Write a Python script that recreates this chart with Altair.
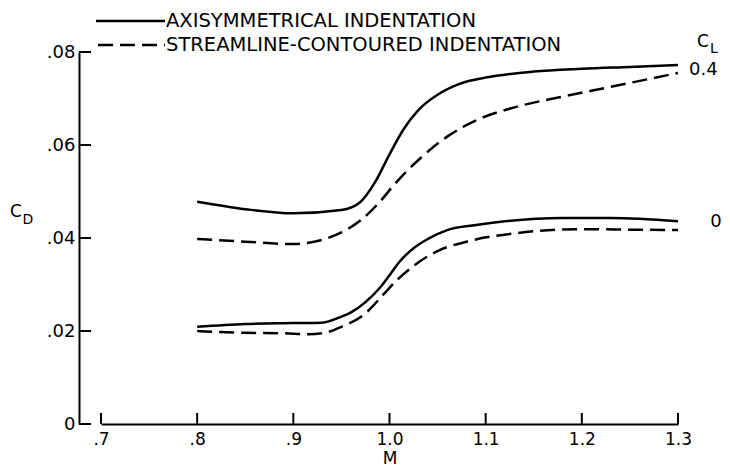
import altair as alt
import pandas as pd

FONT = "DejaVu Sans"

# Axisymmetrical indentation (solid), CL = 0.4
M_SOLID_04 = [0.80, 0.85, 0.90, 0.95, 0.97, 0.985, 1.0, 1.015, 1.03, 1.05, 1.075, 1.1, 1.15, 1.2, 1.25, 1.3]
CD_SOLID_04 = [0.0478, 0.0462, 0.0453, 0.0460, 0.0478, 0.0520, 0.0580, 0.0635, 0.0675, 0.0708, 0.0733, 0.0745, 0.0758, 0.0764, 0.0768, 0.0772]
# Streamline-contoured indentation (dashed), CL = 0.4
M_DASH_04 = [0.80, 0.85, 0.90, 0.93, 0.95, 0.97, 0.99, 1.005, 1.02, 1.035, 1.06, 1.09, 1.13, 1.18, 1.23, 1.3]
CD_DASH_04 = [0.0398, 0.0392, 0.0387, 0.0396, 0.0412, 0.0438, 0.0478, 0.0515, 0.0548, 0.0577, 0.0618, 0.0653, 0.0681, 0.0704, 0.0725, 0.0755]
# Axisymmetrical indentation (solid), CL = 0
M_SOLID_0 = [0.80, 0.85, 0.90, 0.93, 0.95, 0.96, 0.975, 0.99, 1.0, 1.01, 1.025, 1.04, 1.06, 1.09, 1.12, 1.18, 1.23, 1.3]
CD_SOLID_0 = [0.0209, 0.0215, 0.0217, 0.0218, 0.0231, 0.0240, 0.0262, 0.0293, 0.0320, 0.0348, 0.0378, 0.0398, 0.0417, 0.0428, 0.0436, 0.0443, 0.0443, 0.0436]
# Streamline-contoured indentation (dashed), CL = 0
M_DASH_0 = [0.80, 0.85, 0.89, 0.915, 0.93, 0.95, 0.975, 0.993, 1.008, 1.025, 1.05, 1.08, 1.13, 1.2, 1.25, 1.3]
CD_DASH_0 = [0.0200, 0.0196, 0.0195, 0.0193, 0.0195, 0.0209, 0.0238, 0.0277, 0.0310, 0.0340, 0.0372, 0.0392, 0.0410, 0.0419, 0.0418, 0.0417]

X_TICKS = [0.7, 0.8, 0.9, 1.0, 1.1, 1.2, 1.3]
Y_TICKS = [0.0, 0.02, 0.04, 0.06, 0.08]
LEGEND_SOLID = "AXISYMMETRICAL INDENTATION"
LEGEND_DASH = "STREAMLINE-CONTOURED INDENTATION"
CL_LABELS = ["0.4", "0"]

W, H = 577, 372


def frame(m, cd, name):
    return pd.DataFrame({"M": m, "CD": cd, "curve": name})


solid = pd.concat([frame(M_SOLID_04, CD_SOLID_04, "s04"), frame(M_SOLID_0, CD_SOLID_0, "s0")])
dashed = pd.concat([frame(M_DASH_04, CD_DASH_04, "d04"), frame(M_DASH_0, CD_DASH_0, "d0")])

xscale = alt.Scale(domain=[0.7, 1.3], nice=False, zero=False)
yscale = alt.Scale(domain=[0, 0.08], nice=False)

xaxis = alt.Axis(
    values=X_TICKS,
    labelExpr="datum.value < 1 ? replace(format(datum.value, '.1f'), '0.', '.') : format(datum.value, '.1f')",
    ticks=False, grid=False, domainColor="black", domainWidth=2, labelFlush=False,
    labelFont=FONT, labelFontSize=17, labelColor="black", labelPadding=7,
    title="M", titleFont=FONT, titleFontSize=17, titleFontWeight="normal",
    titleColor="black", titlePadding=3,
)
yaxis = alt.Axis(
    values=Y_TICKS,
    labelExpr="datum.value == 0 ? '0' : replace(format(datum.value, '.2f'), '0.', '.')",
    ticks=False, grid=False, domainColor="black", domainWidth=2, offset=22, labelFlush=False,
    labelFont=FONT, labelFontSize=18, labelColor="black", labelPadding=4,
    title="",
)

solid_layer = alt.Chart(solid).mark_line(color="black", strokeWidth=2.5, interpolate="monotone").encode(
    x=alt.X("M:Q", scale=xscale, axis=xaxis),
    y=alt.Y("CD:Q", scale=yscale, axis=yaxis),
    detail="curve:N",
)
dash_layer = alt.Chart(dashed).mark_line(color="black", strokeWidth=2.5, strokeDash=[15, 7], interpolate="monotone").encode(
    x=alt.X("M:Q", scale=xscale),
    y=alt.Y("CD:Q", scale=yscale),
    detail="curve:N",
)

yticks = alt.Chart(pd.DataFrame({"CD": Y_TICKS})).mark_rule(color="black", strokeWidth=2).encode(
    y=alt.Y("CD:Q", scale=yscale),
    x=alt.value(-22), x2=alt.value(-10),
)
xticks = alt.Chart(pd.DataFrame({"M": X_TICKS})).mark_rule(color="black", strokeWidth=2).encode(
    x=alt.X("M:Q", scale=xscale),
    y=alt.value(H), y2=alt.value(H - 11),
)

one = pd.DataFrame({"k": [0]})

leg_solid_line = alt.Chart(one).mark_rule(color="black", strokeWidth=2.5).encode(
    x=alt.value(-5), x2=alt.value(64), y=alt.value(-31))
leg_dash_line = alt.Chart(one).mark_rule(color="black", strokeWidth=2.5, strokeDash=[15, 7]).encode(
    x=alt.value(-3), x2=alt.value(64), y=alt.value(-7))


def label(text, x, y, size=18, align="left"):
    return alt.Chart(one).mark_text(font=FONT, fontSize=size, color="black", align=align, baseline="middle").encode(
        x=alt.value(x), y=alt.value(y), text=alt.value(text))


layers = [
    solid_layer, dash_layer, yticks, xticks, leg_solid_line, leg_dash_line,
    label(LEGEND_SOLID, 65, -31, 19.5),
    label(LEGEND_DASH, 65, -7, 19.5),
    label("C", -85, 160, 17, "center"),
    label("D", -73, 168, 14, "center"),
    label("C", 602, -10, 17, "center"),
    label("L", 613, -3, 14, "center"),
    label(CL_LABELS[0], 588, 18, 18),
    label(CL_LABELS[1], 615, 170, 18, "center"),
]

chart = alt.layer(*layers).properties(
    width=W, height=H,
    autosize="none",
    padding={"left": 93, "top": 44, "right": 44, "bottom": 47},
    background="white",
).configure_view(stroke=None)

chart.save("out.html", embed_options={"renderer": "svg", "actions": False})
